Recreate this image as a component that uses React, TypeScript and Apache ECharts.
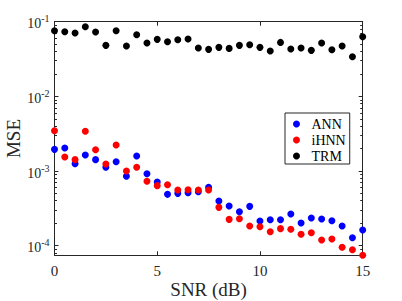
import React, { useEffect, useRef } from "react";
import * as echarts from "echarts";

const snr = [0, 0.5, 1, 1.5, 2, 2.5, 3, 3.5, 4, 4.5, 5, 5.5, 6, 6.5, 7, 7.5, 8, 8.5, 9, 9.5, 10, 10.5, 11, 11.5, 12, 12.5, 13, 13.5, 14, 14.5, 15];

const annMse = [1.95e-3, 2.03e-3, 1.25e-3, 1.64e-3, 1.42e-3, 1.12e-3, 1.33e-3, 8.5e-4, 1.59e-3, 9.2e-4, 7.1e-4, 4.87e-4, 5.02e-4, 5.13e-4, 5.29e-4, 6.04e-4, 3.96e-4, 3.4e-4, 2.85e-4, 3.36e-4, 2.14e-4, 2.23e-4, 2.23e-4, 2.65e-4, 2.01e-4, 2.35e-4, 2.28e-4, 2.16e-4, 1.83e-4, 1.28e-4, 1.62e-4];

const ihnnMse = [3.47e-3, 1.54e-3, 1.42e-3, 3.4e-3, 1.93e-3, 1.24e-3, 2.23e-3, 1.0e-3, 1.12e-3, 7.28e-4, 6.37e-4, 6.56e-4, 5.57e-4, 5.62e-4, 5.57e-4, 5.57e-4, 3.26e-4, 2.25e-4, 2.3e-4, 1.83e-4, 1.79e-4, 1.54e-4, 1.69e-4, 1.66e-4, 1.42e-4, 1.49e-4, 1.19e-4, 1.23e-4, 9.5e-5, 8.8e-5, 7.43e-5];

const trmMse = [0.0757, 0.0734, 0.0705, 0.0857, 0.0727, 0.0482, 0.0757, 0.0472, 0.067, 0.0518, 0.058, 0.0539, 0.0574, 0.0586, 0.0444, 0.0426, 0.0453, 0.0439, 0.0482, 0.0492, 0.0453, 0.0405, 0.0528, 0.0431, 0.0444, 0.0413, 0.0518, 0.0422, 0.0472, 0.034, 0.063];

const seriesNames = ["ANN", "iHNN", "TRM"];
const seriesColors = ["#0000ff", "#ff0000", "#000000"];
const xTicks = [0, 5, 10, 15];
const yDecades = [-4, -3, -2, -1];
const yMinValue = 7.43e-5;
const yMaxValue = 0.1;

const FONT = "'Liberation Serif', 'Times New Roman', serif";
const AXIS_COLOR = "#262626";

const minorTicks: number[] = [];
for (let n = -5; n <= -2; n++) {
  for (let k = 2; k <= 9; k++) {
    const v = Math.log10(k * Math.pow(10, n));
    if (v >= Math.log10(yMinValue) && v <= Math.log10(yMaxValue)) minorTicks.push(v);
  }
}

export default function App() {
  const ref = useRef<HTMLDivElement>(null);
  useEffect(() => {
    document.body.style.margin = "0";
    if (!ref.current) return;
    const chart = echarts.init(ref.current, undefined, { renderer: "svg" });
    const yMin = Math.log10(yMinValue);
    const yMax = Math.log10(yMaxValue);
    const toData = (vals: number[]) => snr.map((x, i) => [x, Math.log10(vals[i])]);
    const allVals = [annMse, ihnnMse, trmMse];

    const baseY = {
      type: "value",
      min: yMin,
      max: yMax,
      splitLine: { show: false },
    };

    chart.setOption({
      animation: false,
      backgroundColor: "#ffffff",
      grid: { left: 54.5, right: 39.3, top: 21.7, bottom: 45.7, containLabel: false, outerBoundsMode: "none" },
      legend: {
        data: seriesNames,
        orient: "vertical",
        left: 285,
        top: 113,
        icon: "circle",
        itemWidth: 20,
        itemHeight: 7,
        itemGap: 0,
        padding: [3, 4, 0, 8],
        borderColor: AXIS_COLOR,
        borderWidth: 1,
        backgroundColor: "#ffffff",
        textStyle: { fontFamily: FONT, fontSize: 14, color: "#000", lineHeight: 16 },
      },
      xAxis: [
        {
          type: "value",
          position: "bottom",
          min: 0,
          max: 15,
          interval: 5,
          axisLine: { lineStyle: { color: AXIS_COLOR, width: 1 } },
          axisTick: { inside: true, length: 4, lineStyle: { color: AXIS_COLOR } },
          axisLabel: { customValues: xTicks, fontFamily: FONT, fontSize: 15, color: AXIS_COLOR, margin: 8 },
          splitLine: { show: false },
          name: "SNR (dB)",
          nameLocation: "middle",
          nameGap: 25,
          nameMoveOverlap: false,
          nameTextStyle: { fontFamily: FONT, fontSize: 19, color: AXIS_COLOR },
        },
        {
          type: "value",
          position: "top",
          min: 0,
          max: 15,
          interval: 5,
          axisLine: { lineStyle: { color: AXIS_COLOR, width: 1 } },
          axisTick: { inside: true, length: 4, lineStyle: { color: AXIS_COLOR } },
          axisLabel: { show: false },
          splitLine: { show: false },
        },
      ],
      yAxis: [
        {
          ...baseY,
          position: "left",
          axisLine: { show: true, lineStyle: { color: AXIS_COLOR, width: 1 } },
          axisTick: { show: true, inside: true, length: 4, customValues: yDecades, lineStyle: { color: AXIS_COLOR } },
          axisLabel: {
            customValues: yDecades,
            margin: 5,
            formatter: (v: number) => "{b|10}{s|" + Math.round(v) + "}",
            rich: {
              b: { fontFamily: FONT, fontSize: 14, color: AXIS_COLOR, padding: [4, 0, 0, 0] },
              s: { fontFamily: FONT, fontSize: 10, color: AXIS_COLOR, padding: [0, 0, 6, 0] },
            },
          },
          name: "MSE",
          nameLocation: "middle",
          nameGap: 32,
          nameMoveOverlap: false,
          nameTextStyle: { fontFamily: FONT, fontSize: 19, color: AXIS_COLOR },
        },
        {
          ...baseY,
          position: "left",
          axisLine: { show: false },
          axisTick: { show: true, inside: true, length: 2.5, customValues: minorTicks, lineStyle: { color: AXIS_COLOR } },
          axisLabel: { show: false },
        },
        {
          ...baseY,
          position: "right",
          axisLine: { show: true, lineStyle: { color: AXIS_COLOR, width: 1 } },
          axisTick: { show: true, inside: true, length: 4, customValues: yDecades, lineStyle: { color: AXIS_COLOR } },
          axisLabel: { show: false },
        },
        {
          ...baseY,
          position: "right",
          axisLine: { show: false },
          axisTick: { show: true, inside: true, length: 2.5, customValues: minorTicks, lineStyle: { color: AXIS_COLOR } },
          axisLabel: { show: false },
        },
      ],
      series: seriesNames.map((name, i) => ({
        name,
        type: "scatter",
        xAxisIndex: 0,
        yAxisIndex: 0,
        symbol: "circle",
        symbolSize: 7,
        clip: false,
        itemStyle: { color: seriesColors[i], opacity: 1 },
        data: toData(allVals[i]),
        z: 2 + i,
      })),
    });
    return () => chart.dispose();
  }, []);
  return <div ref={ref} style={{ width: 402, height: 301, position: "absolute", left: 0, top: 0 }} />;
}
